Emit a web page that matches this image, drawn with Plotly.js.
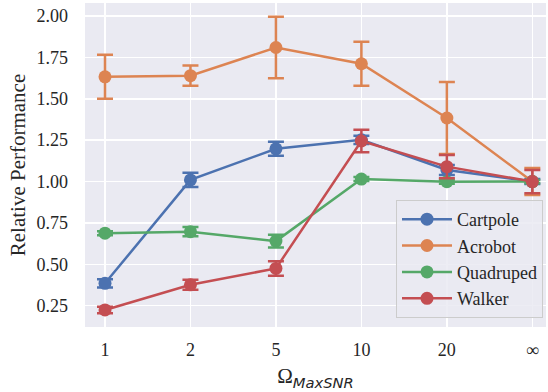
<!DOCTYPE html>
<html>
<head>
<meta charset="utf-8">
<script src="https://cdn.plot.ly/plotly-3.0.1.min.js"></script>
<style>
html,body{margin:0;padding:0;background:#fff;}
#chart{width:548px;height:392px;}
#chart svg text{font-family:"Liberation Serif","Times New Roman",serif !important;}
#chart .g-xtitle text tspan{font-family:"DejaVu Sans",sans-serif !important;}
</style>
</head>
<body>
<div id="chart"></div>
<script>
const categories = ['1', '2', '5', '10', '20', '∞'];
const seriesNames = ['Cartpole', 'Acrobot', 'Quadruped', 'Walker'];
const cartpole = [0.385, 1.01, 1.198, 1.252, 1.07, 1.00];
const cartpoleErr = [0.025, 0.043, 0.042, 0.025, 0.03, 0.015];
const acrobot = [1.633, 1.64, 1.81, 1.712, 1.384, 1.00];
const acrobotErr = [0.133, 0.061, 0.186, 0.133, 0.217, 0.082];
const quadruped = [0.688, 0.697, 0.64, 1.015, 0.999, 1.00];
const quadrupedErr = [0.012, 0.028, 0.038, 0.012, 0.012, 0.01];
const walker = [0.224, 0.376, 0.475, 1.245, 1.09, 1.00];
const walkerErr = [0.02, 0.03, 0.044, 0.068, 0.07, 0.07];
const yTicks = [0.25, 0.50, 0.75, 1.00, 1.25, 1.50, 1.75, 2.00];

const colors = ['#4C72B0', '#DD8452', '#55A868', '#C44E52'];
const values = [cartpole, acrobot, quadruped, walker];
const errs = [cartpoleErr, acrobotErr, quadrupedErr, walkerErr];

const traces = seriesNames.map((name, i) => ({
  type: 'scatter',
  mode: 'lines+markers',
  name: name,
  x: categories,
  y: values[i],
  line: {color: colors[i], width: 2.5},
  marker: {color: colors[i], size: 13},
  error_y: {type: 'data', array: errs[i], visible: true, color: colors[i], thickness: 2.5, width: 8}
}));

const serif = 'Liberation Serif';
const layout = {
  width: 548, height: 392,
  margin: {l: 85, r: 2, t: 3, b: 65},
  paper_bgcolor: '#ffffff',
  plot_bgcolor: '#EAEAF2',
  font: {family: serif, size: 18, color: '#262626'},
  showlegend: true,
  legend: {
    x: 0.9935, xanchor: 'right', y: 0.028, yanchor: 'bottom',
    itemwidth: 50,
    bgcolor: 'rgba(234,234,242,0.85)', bordercolor: '#cccccc', borderwidth: 1,
    font: {family: serif, size: 18, color: '#262626'}
  },
  xaxis: {
    type: 'category',
    categoryorder: 'array', categoryarray: categories,
    range: [-0.234, 5.16],
    showgrid: true, gridcolor: '#ffffff', gridwidth: 1.5,
    zeroline: false, showline: false, ticks: '',
    ticklabelstandoff: 10,
    tickfont: {family: serif, size: 18, color: '#262626'},
    title: {text: 'Ω<sub><i>MaxSNR</i></sub>', font: {family: serif, size: 21, color: '#262626'}, standoff: 9}
  },
  yaxis: {
    range: [0.121, 2.079],
    tickvals: yTicks,
    ticktext: yTicks.map(v => v.toFixed(2)),
    showgrid: true, gridcolor: '#ffffff', gridwidth: 1.5,
    zeroline: false, showline: false, ticks: '',
    ticklabelstandoff: 16,
    tickfont: {family: serif, size: 18, color: '#262626'},
    title: {text: 'Relative Performance', font: {family: serif, size: 21, color: '#262626'}, standoff: 5}
  }
};

Plotly.newPlot('chart', traces, layout, {displayModeBar: false, staticPlot: true});
</script>
</body>
</html>
